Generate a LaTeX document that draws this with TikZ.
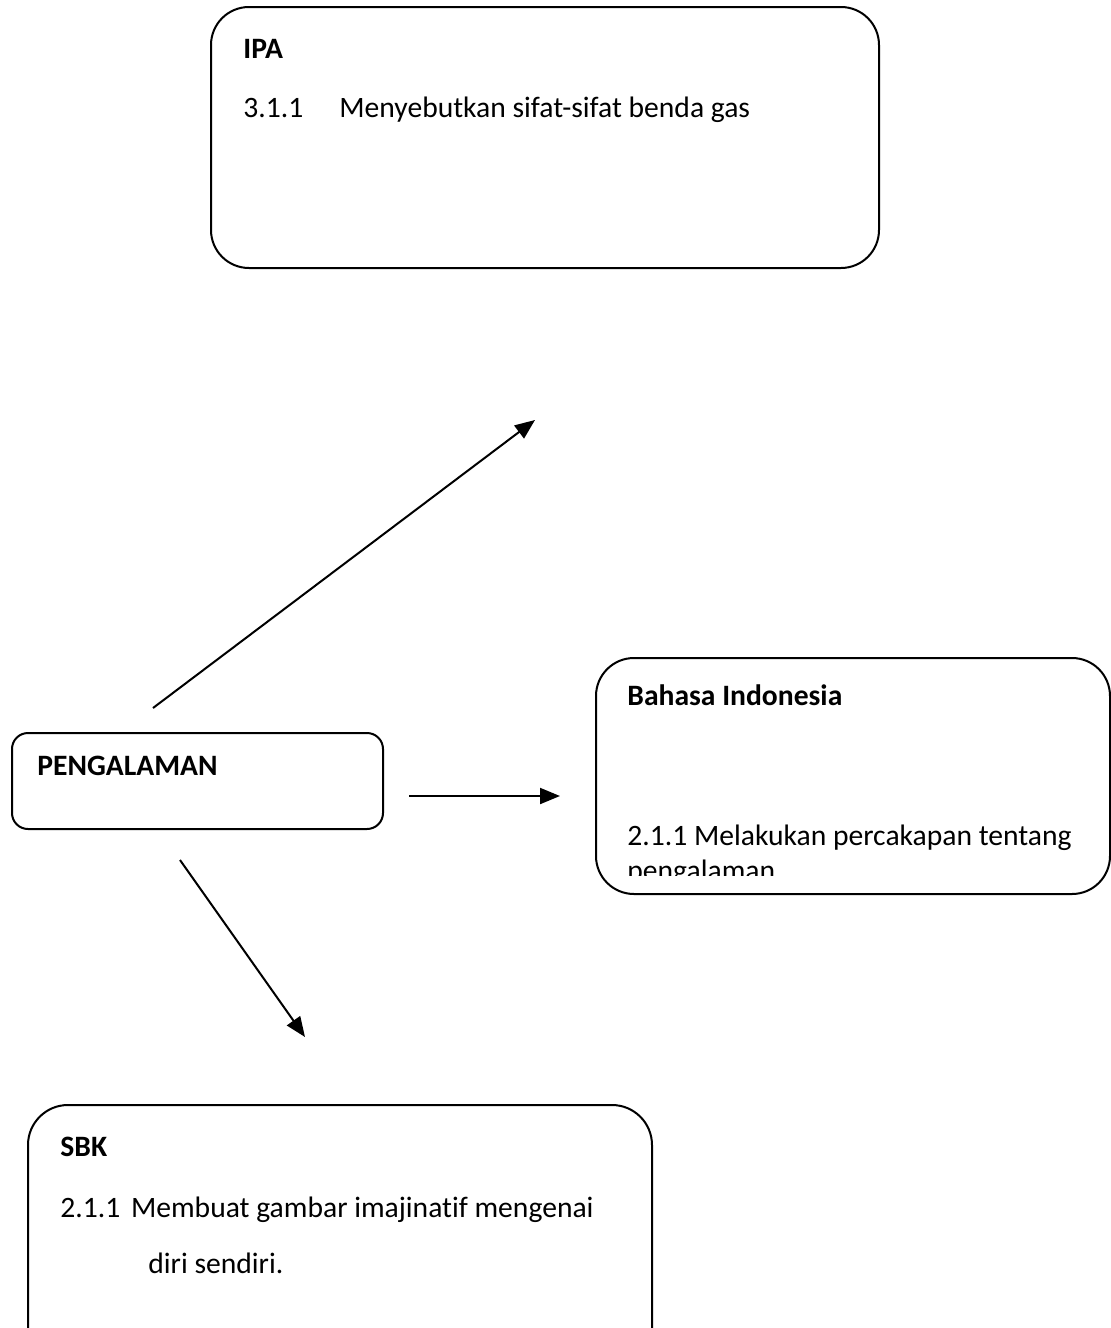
\documentclass[tikz,border=0pt]{standalone}
\usepackage{fontspec}
\setmainfont[Ligatures=NoCommon]{Carlito}
\usetikzlibrary{arrows.meta}
\tikzset{
  box/.style={draw, line width=1pt, anchor=north west, inner sep=0pt},
  txt/.style={anchor=base west, inner sep=0pt, font=\fontsize{14.8pt}{18pt}\selectfont},
  btxt/.style={txt, font=\fontsize{14.8pt}{18pt}\selectfont\bfseries},
  arr/.style={line width=1pt, -{Triangle[length=10pt,width=8pt]}}
}
\begin{document}
\begin{tikzpicture}[x=0.5pt,y=-0.5pt]
\useasboundingbox (0,0) rectangle (1111,1328);
\begin{scope}
\clip (0,0) rectangle (1111,1328);
% IPA
\node[box, rounded corners=19pt, minimum width=334pt, minimum height=130.5pt] (ipa) at (210,6) {};
\node[btxt] (ipat) at (243,58) {IPA};
\node[txt] (ipan) at (243,117) {3.1.1};
\node[txt] (ipad) at (339,117) {Menyebutkan sifat-sifat benda gas};
% Bahasa Indonesia
\node[box, rounded corners=19pt, minimum width=257pt, minimum height=118pt] (bi) at (595,657) {};
\node[btxt] (bit) at (627,705) {Bahasa Indonesia};
\node[txt] (bid) at (627,845) {2.1.1 Melakukan percakapan tentang};
\begin{scope}
\clip (600,850) rectangle (1100,875);
\node[txt] (bid2) at (627,880) {pengalaman};
\end{scope}
% PENGALAMAN
\node[box, rounded corners=8pt, minimum width=185.5pt, minimum height=48pt] (pg) at (11,732) {};
\node[btxt] (pgt) at (37,775) {PENGALAMAN};
% SBK
\node[box, rounded corners=20pt, minimum width=312pt, minimum height=133pt] (sbk) at (27,1104) {};
\node[btxt] (sbkt) at (60,1156) {SBK};
\node[txt] (sbkd) at (60,1217) {2.1.1\hspace{2pt} Membuat gambar imajinatif mengenai};
\node[txt] (sbkd2) at (148,1273) {diri sendiri.};
% arrows
\coordinate (a1s) at (153,708);
\coordinate (a1e) at (535,420);
\coordinate (a2s) at (409,796);
\coordinate (a2e) at (560,796);
\coordinate (a3s) at (180,860);
\coordinate (a3e) at (305,1037);
\draw[arr] (a1s) -- (a1e);
\draw[arr] (a2s) -- (a2e);
\draw[arr] (a3s) -- (a3e);
\end{scope}
\end{tikzpicture}
\end{document}
